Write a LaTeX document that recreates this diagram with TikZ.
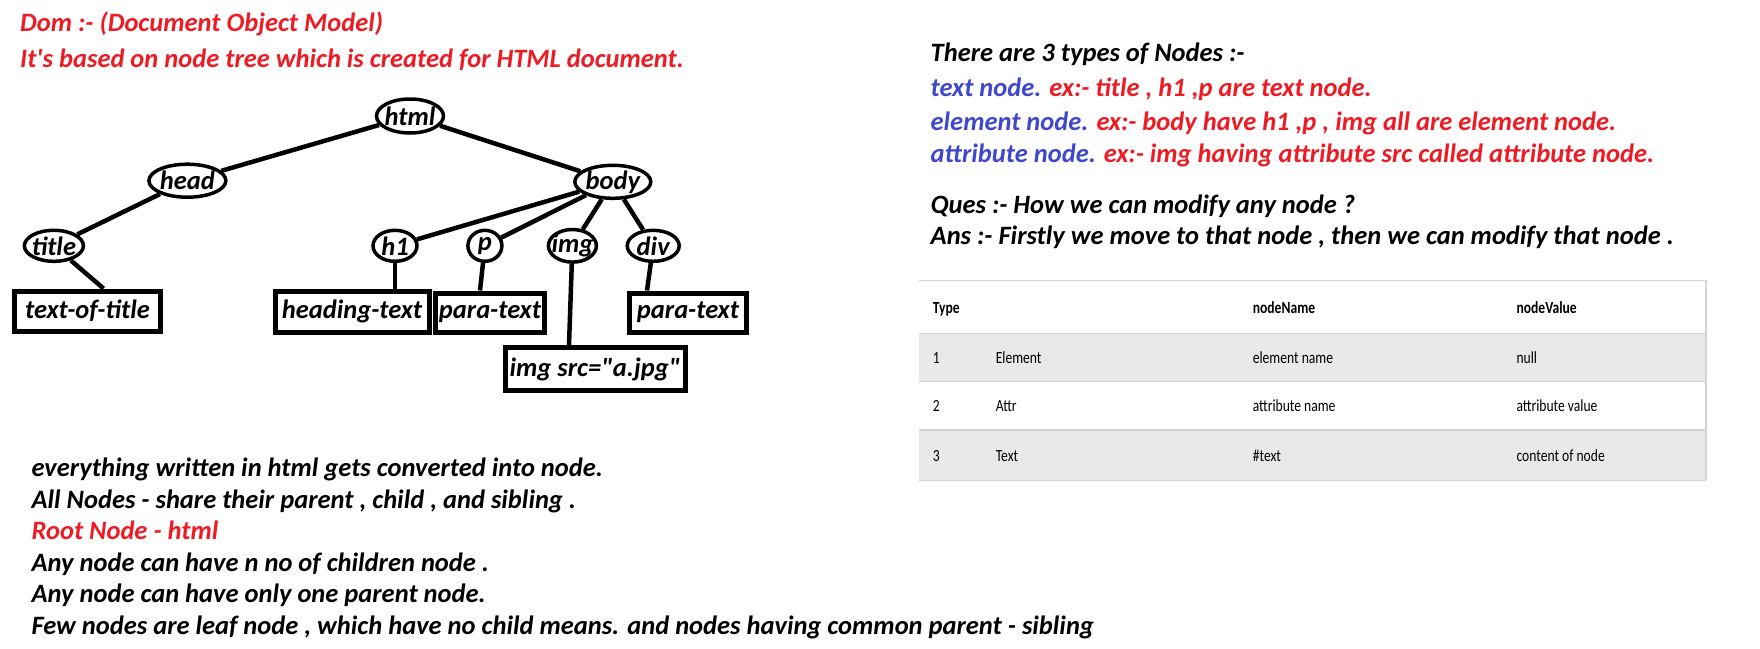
\documentclass[tikz,border=0pt]{standalone}
\usepackage{fontspec}
\setmainfont{Carlito}
\usetikzlibrary{shapes.geometric}
\definecolor{pred}{HTML}{ED1C24}
\definecolor{pblue}{HTML}{3F48CC}
\definecolor{tgrey}{HTML}{E8E9EB}
\definecolor{tline}{HTML}{D4D4D4}
\newcommand\zw[1]{\makebox[0pt]{#1}}
\newcommand\bi{\fontsize{26.5}{31}\selectfont\bfseries\itshape}
\newcommand\tcl[1]{\scalebox{0.8}[1]{#1}}
\begin{document}
\begin{tikzpicture}[x=1pt,y=-1pt,
  tnode/.style={ellipse,draw,fill=white,line width=3.5pt,inner sep=0pt,font=\bi},
  leaf/.style={rectangle,draw,fill=white,line width=5pt,inner sep=0pt,font=\bi},
  edge/.style={line width=4.5pt},
  txt/.style={anchor=base west,inner sep=0pt,font=\bi},
  cell/.style={anchor=base west,inner sep=0pt,font=\fontsize{17}{20}\selectfont},
  hcell/.style={anchor=base west,inner sep=0pt,font=\fontsize{17}{20}\selectfont\bfseries}]
\useasboundingbox (0,0) rectangle (1760,648);
\fill[white] (0,0) rectangle (1760,648);

% header
\node[txt,text=pred] (hd1) at (20,31) {Dom :- (Document Object Model)};
\node[txt,text=pred] (hd2) at (20,67) {It\textquotesingle s based on node tree which is created for HTML document.};

% tree
\node[tnode,minimum width=67,minimum height=34] (html) at (410,116) {\zw{html}};
\node[tnode,minimum width=77,minimum height=33] (head) at (187.4,180.7) {\zw{head}};
\node[tnode,minimum width=76,minimum height=33] (body) at (612.8,181.8) {\zw{body}};
\node[tnode,minimum width=59,minimum height=31] (title) at (53.9,245.8) {\zw{title}};
\node[tnode,minimum width=44,minimum height=31] (h1) at (395,245.8) {\zw{h1}};
\node[tnode,minimum width=34,minimum height=31] (p) at (484.9,245.8) {\zw{p}};
\node[tnode,minimum width=48,minimum height=31] (img) at (572.4,245.8) {\zw{img}};
\node[tnode,minimum width=52,minimum height=31] (div) at (653.2,245.8) {\zw{div}};

\node[leaf,minimum width=146,minimum height=40] (ttl) at (87.5,311) {\zw{text-of-title}};
\node[leaf,minimum width=154,minimum height=41] (ht) at (352,311.5) {\zw{heading-text}};
\node[leaf,minimum width=109,minimum height=39] (pt1) at (490,312.5) {\zw{para-text}};
\node[leaf,minimum width=117,minimum height=39] (pt2) at (688,312.5) {\zw{para-text}};
\node[leaf,minimum width=180,minimum height=43] (isrc) at (595,369) {\zw{img src=\textquotedbl a.jpg\textquotedbl}};

\draw[edge] (html) -- (head);
\draw[edge] (html) -- (body);
\draw[edge] (head) -- (title);
\draw[edge] (body) -- (h1);
\draw[edge] (body) -- (p);
\draw[edge] (body) -- (img);
\draw[edge] (body) -- (div);
\draw[edge] (title) -- ([xshift=16]ttl.north);
\draw[edge] (h1) -- (h1 |- ht.north);
\draw[edge] (p) -- ([xshift=-10]pt1.north);
\draw[edge] (img) -- ([xshift=-26]isrc.north);
\draw[edge] (div) -- ([xshift=-41]pt2.north);

% bottom notes
\node[txt] (b1) at (31.4,476.5) {everything written in html gets converted into node.};
\node[txt] (b2) at (31.4,508) {All Nodes - share their parent , child , and sibling .};
\node[txt,text=pred] (b3) at (31.4,539.5) {Root Node - html};
\node[txt] (b4) at (31.4,571) {Any node can have n no of children node .};
\node[txt] (b5) at (31.4,602.5) {Any node can have only one parent node.};
\node[txt] (b6) at (31.4,634) {Few nodes are leaf node , which have no child means. and nodes having common parent - sibling};

% right notes
\node[txt] (r1) at (930.5,61) {There are 3 types of Nodes :-};
\node[txt] (r2) at (930.5,96) {\textcolor{pblue}{text node.} \textcolor{pred}{ex:- title , h1 ,p are text node.}};
\node[txt] (r3) at (930.5,130) {\textcolor{pblue}{element node.} \textcolor{pred}{ex:- body have h1 ,p , img all are element node.}};
\node[txt] (r4) at (930.5,162) {\textcolor{pblue}{attribute node.} \textcolor{pred}{ex:- img having attribute src called attribute node.}};
\node[txt] (r5) at (930.5,213) {Ques :- How we can modify any node ?};
\node[txt] (r6) at (930.5,244) {Ans :- Firstly we move to that node , then we can modify that node .};

% table
\fill[tgrey] (919,333.4) rectangle (1706,381.6);
\fill[tgrey] (919,429.9) rectangle (1706,480.4);
\draw[tline,line width=1.5] (919,280.6) -- (1706,280.6) -- (1706,480.4) -- (919,480.4);
\draw[tline,line width=1.5] (919,333.4) -- (1706,333.4);
\draw[tline,line width=1.5] (919,381.6) -- (1706,381.6);
\draw[tline,line width=1.5] (919,429.9) -- (1706,429.9);

\node[hcell] (th1) at (932.7,313) {\tcl{Type}};
\node[hcell] (th2) at (1252.6,313) {\tcl{nodeName}};
\node[hcell] (th3) at (1516.3,313) {\tcl{nodeValue}};
\node[cell] (c11) at (932.7,363.5) {\tcl{1}};
\node[cell] (c12) at (995.6,363.5) {\tcl{Element}};
\node[cell] (c13) at (1252.6,363.5) {\tcl{element name}};
\node[cell] (c14) at (1516.3,363.5) {\tcl{null}};
\node[cell] (c21) at (932.7,411.7) {\tcl{2}};
\node[cell] (c22) at (995.6,411.7) {\tcl{Attr}};
\node[cell] (c23) at (1252.6,411.7) {\tcl{attribute name}};
\node[cell] (c24) at (1516.3,411.7) {\tcl{attribute value}};
\node[cell] (c31) at (932.7,461) {\tcl{3}};
\node[cell] (c32) at (995.6,461) {\tcl{Text}};
\node[cell] (c33) at (1252.6,461) {\tcl{\#text}};
\node[cell] (c34) at (1516.3,461) {\tcl{content of node}};
\end{tikzpicture}
\end{document}
